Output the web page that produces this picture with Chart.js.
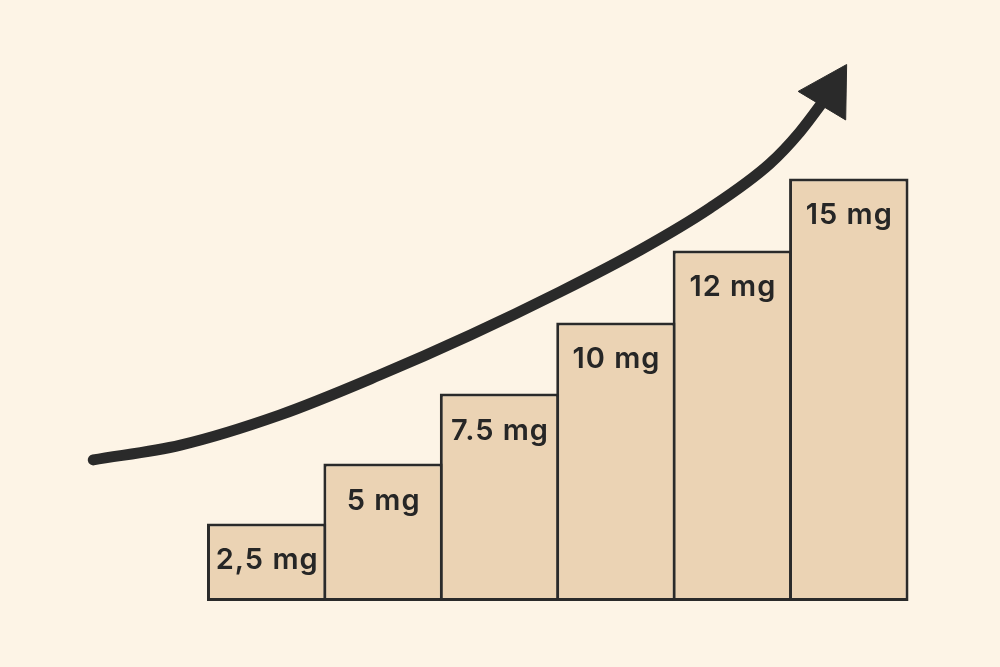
<!DOCTYPE html>
<html>
<head>
<meta charset="utf-8">
<script src="https://cdn.jsdelivr.net/npm/chart.js@4"></script>
<style>
  html, body { margin: 0; padding: 0; background: #fdf4e6; }
  #wrap { width: 1000px; height: 667px; position: relative; }
</style>
</head>
<body>
<div id="wrap"><canvas id="doseChart"></canvas></div>
<script>
// dose steps
const doseLabels = ['2,5 mg', '5 mg', '7.5 mg', '10 mg', '12 mg', '15 mg'];
const stepHeights = [2.77, 4.91, 7.41, 9.95, 12.52, 15.09];

// the rising arrow (x in step positions, y in the same units as the bars)
const arrowX = [-0.49, 0.26, 1.11, 1.97, 2.75, 3.52, 4.21, 4.81, 5.32, 5.58, 5.84];
const arrowY = [5.04, 5.57, 6.64, 8.07, 9.50, 11.04, 12.54, 14.04, 15.61, 16.75, 18.18];

const ink = '#2a2a2a';

// labels inside the top of each step
const stepLabels = {
    id: 'stepLabels',
    afterDatasetsDraw(chart) {
        const ctx = chart.ctx;
        const meta = chart.getDatasetMeta(0);
        ctx.save();
        ctx.fillStyle = '#262626';
        ctx.font = '600 29px Inter';
        ctx.letterSpacing = '1px';
        ctx.textAlign = 'center';
        ctx.textBaseline = 'alphabetic';
        meta.data.forEach((bar, i) => {
            if (i === 0) return;
            ctx.fillText(doseLabels[i - 1], bar.x + 0.5, bar.y + 46);
        });
        ctx.restore();
    }
};

const ctx = document.getElementById('doseChart').getContext('2d');
const lastIdx = arrowX.length - 1;

new Chart(ctx, {
    type: 'bar',
    data: {
        labels: [''].concat(doseLabels),
        datasets: [
            {
                type: 'bar',
                data: [null].concat(stepHeights),
                backgroundColor: '#ebd3b4',
                borderColor: ink,
                borderWidth: 3,
                borderSkipped: false,
                grouped: false,
                barPercentage: 1.026,
                categoryPercentage: 1,
                clip: false,
                order: 2
            },
            {
                type: 'line',
                xAxisID: 'x2',
                data: arrowX.map((x, i) => ({ x: x, y: arrowY[i] })),
                borderColor: ink,
                borderWidth: 11,
                borderCapStyle: 'round',
                cubicInterpolationMode: 'monotone',
                pointStyle: 'triangle',
                pointRadius: c => c.dataIndex === lastIdx ? 32 : 0,
                pointRotation: 31,
                pointBackgroundColor: ink,
                pointBorderColor: ink,
                pointBorderWidth: 1,
                clip: false,
                order: 1
            }
        ]
    },
    options: {
        responsive: true,
        maintainAspectRatio: false,
        animation: false,
        events: [],
        layout: { padding: { left: 92.08, right: 93, top: 41, bottom: 66 } },
        plugins: { legend: { display: false }, tooltip: { enabled: false } },
        scales: {
            x: { type: 'category', display: false, offset: true },
            x2: { type: 'linear', display: false, offset: false, min: -0.5, max: 6.5 },
            y: { display: false, min: 0, max: 20 }
        }
    },
    plugins: [stepLabels]
});
</script>
</body>
</html>
